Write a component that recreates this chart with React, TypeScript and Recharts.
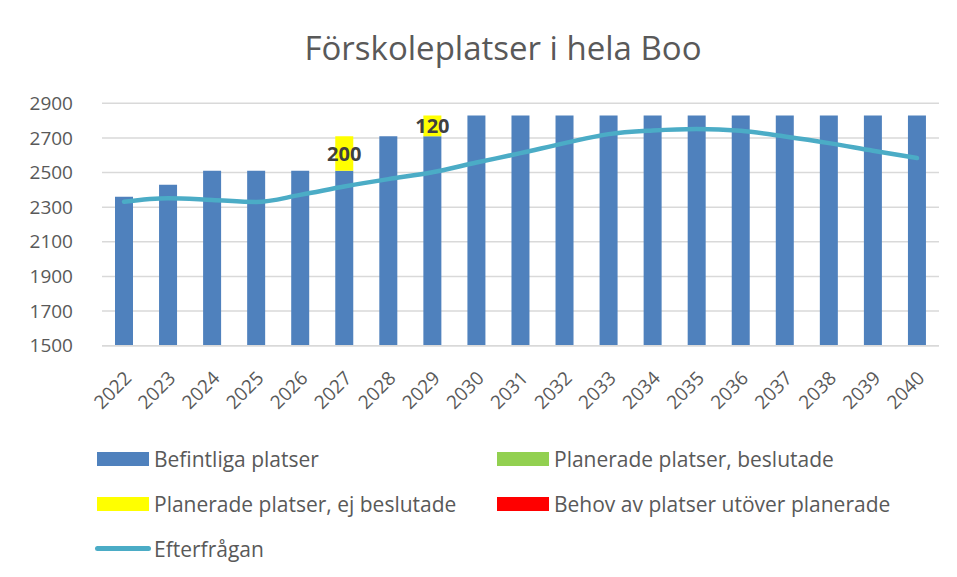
import React from 'react';
import { Bar, CartesianGrid, ComposedChart, LabelList, Line, XAxis, YAxis } from 'recharts';

// Förskoleplatser i hela Boo, 2022–2040
const years = ['2022', '2023', '2024', '2025', '2026', '2027', '2028', '2029', '2030', '2031',
  '2032', '2033', '2034', '2035', '2036', '2037', '2038', '2039', '2040'];
const befintliga = [2360, 2430, 2510, 2510, 2510, 2510, 2710, 2710, 2830, 2830,
  2830, 2830, 2830, 2830, 2830, 2830, 2830, 2830, 2830];
const beslutade = [0, 0, 0, 0, 0, 0, 0, 0, 0, 0, 0, 0, 0, 0, 0, 0, 0, 0, 0];
const ejBeslutade = [0, 0, 0, 0, 0, 200, 0, 120, 0, 0, 0, 0, 0, 0, 0, 0, 0, 0, 0];
const behov = [0, 0, 0, 0, 0, 0, 0, 0, 0, 0, 0, 0, 0, 0, 0, 0, 0, 0, 0];
const efterfragan = [2332, 2352, 2342, 2330, 2371, 2419, 2462, 2502, 2558, 2612,
  2670, 2722, 2743, 2752, 2741, 2708, 2670, 2626, 2584];
const yTicks = [1500, 1700, 1900, 2100, 2300, 2500, 2700, 2900];

const data = years.map((year, i) => ({
  year,
  befintliga: befintliga[i],
  beslutade: beslutade[i],
  ejBeslutade: ejBeslutade[i],
  behov: behov[i],
  efterfragan: efterfragan[i],
}));

const FONT = "'Open Sans', 'Noto Sans', sans-serif";
const GREY = '#595959';

// legend layout (two columns, three rows)
const legendItems = [
  { name: 'Befintliga platser', color: '#4F81BD', kind: 'rect', col: 0, row: 0 },
  { name: 'Planerade platser, beslutade', color: '#92D050', kind: 'rect', col: 1, row: 0 },
  { name: 'Planerade platser, ej beslutade', color: '#FFFF00', kind: 'rect', col: 0, row: 1 },
  { name: 'Behov av platser utöver planerade', color: '#FF0000', kind: 'rect', col: 1, row: 1 },
  { name: 'Efterfrågan', color: '#4BACC6', kind: 'line', col: 0, row: 2 },
];
const legendCols = [90, 490];
const legendRows = [452, 497, 541.7];

function YearTick({ x, y, payload }: any) {
  const cx = x + 4;
  const cy = y + 29;
  return (
    <text
      x={cx}
      y={cy}
      dy="0.35em"
      textAnchor="end"
      transform={`rotate(-45 ${cx} ${cy})`}
      fill={GREY}
      fontSize={19}
      fontFamily={FONT}
    >
      {payload.value}
    </text>
  );
}

function ValueTick({ x, y, payload }: any) {
  return (
    <text x={x - 21} y={y} dy="0.35em" textAnchor="end" fill={GREY} fontSize={19} fontFamily={FONT}>
      {payload.value}
    </text>
  );
}

function SegmentLabel(props: any) {
  const { x, y, width, height, value } = props;
  if (!value) return null;
  return (
    <text
      x={x + width / 2}
      y={y + height / 2}
      dy="0.35em"
      textAnchor="middle"
      fill="#404040"
      fontSize={20}
      fontWeight="bold"
      fontFamily={FONT}
    >
      {value}
    </text>
  );
}

export default function App() {
  return (
    <div
      style={{
        position: 'relative',
        width: 950,
        height: 570,
        marginLeft: -1,
        marginTop: -1,
        overflow: 'hidden',
        fontFamily: FONT,
        background: '#fff',
      }}
    >
      <div
        style={{
          position: 'absolute',
          left: 0,
          top: 0,
          width: 1000,
          height: 700,
          borderTop: '1.5px solid #D9D9D9',
          borderLeft: '1.5px solid #D9D9D9',
        }}
      />
      <div
        style={{
          position: 'absolute',
          left: 0,
          top: 23.5,
          width: 992,
          textAlign: 'center',
          fontSize: 33,
          lineHeight: '33px',
          color: GREY,
          whiteSpace: 'nowrap',
        }}
      >
        Förskoleplatser i hela Boo
      </div>

      <div style={{ position: 'absolute', left: 0, top: 0 }}>
        <ComposedChart
          width={950}
          height={570}
          data={data}
          margin={{ top: 96.3, right: 18, left: 0, bottom: 171.3 }}
          barSize={18}
        >
          <CartesianGrid vertical={false} stroke="#D9D9D9" strokeWidth={1.5} />
          <XAxis
            dataKey="year"
            height={60}
            tickLine={false}
            axisLine={{ stroke: '#D9D9D9', strokeWidth: 1.5 }}
            tickSize={0}
            tickMargin={0}
            interval={0}
            tick={<YearTick />}
          />
          <YAxis
            width={95}
            domain={[1500, 2900]}
            ticks={yTicks}
            allowDataOverflow
            axisLine={false}
            tickLine={false}
            tick={<ValueTick />}
          />
          <Bar dataKey="befintliga" stackId="a" fill="#4F81BD" isAnimationActive={false} />
          <Bar dataKey="beslutade" stackId="a" fill="#92D050" isAnimationActive={false} />
          <Bar dataKey="ejBeslutade" stackId="a" fill="#FFFF00" isAnimationActive={false}>
            <LabelList dataKey="ejBeslutade" content={<SegmentLabel />} />
          </Bar>
          <Bar dataKey="behov" stackId="a" fill="#FF0000" isAnimationActive={false} />
          <Line
            dataKey="efterfragan"
            type="monotone"
            stroke="#4BACC6"
            strokeWidth={4.5}
            strokeLinecap="round"
            dot={false}
            activeDot={false}
            isAnimationActive={false}
          />
        </ComposedChart>
      </div>

      {legendItems.map((item) => {
        const left = legendCols[item.col];
        const cy = legendRows[item.row];
        return (
          <div key={item.name}>
            {item.kind === 'rect' ? (
              <div
                style={{
                  position: 'absolute',
                  left,
                  top: cy - 7,
                  width: 52,
                  height: 14,
                  background: item.color,
                }}
              />
            ) : (
              <div
                style={{
                  position: 'absolute',
                  left: left - 2,
                  top: cy - 2.5,
                  width: 56,
                  height: 5,
                  borderRadius: 3,
                  background: item.color,
                }}
              />
            )}
            <div
              style={{
                position: 'absolute',
                left: left + 57,
                top: cy - 14,
                height: 28,
                lineHeight: '28px',
                fontSize: 21,
                color: GREY,
                whiteSpace: 'nowrap',
              }}
            >
              {item.name}
            </div>
          </div>
        );
      })}
    </div>
  );
}
